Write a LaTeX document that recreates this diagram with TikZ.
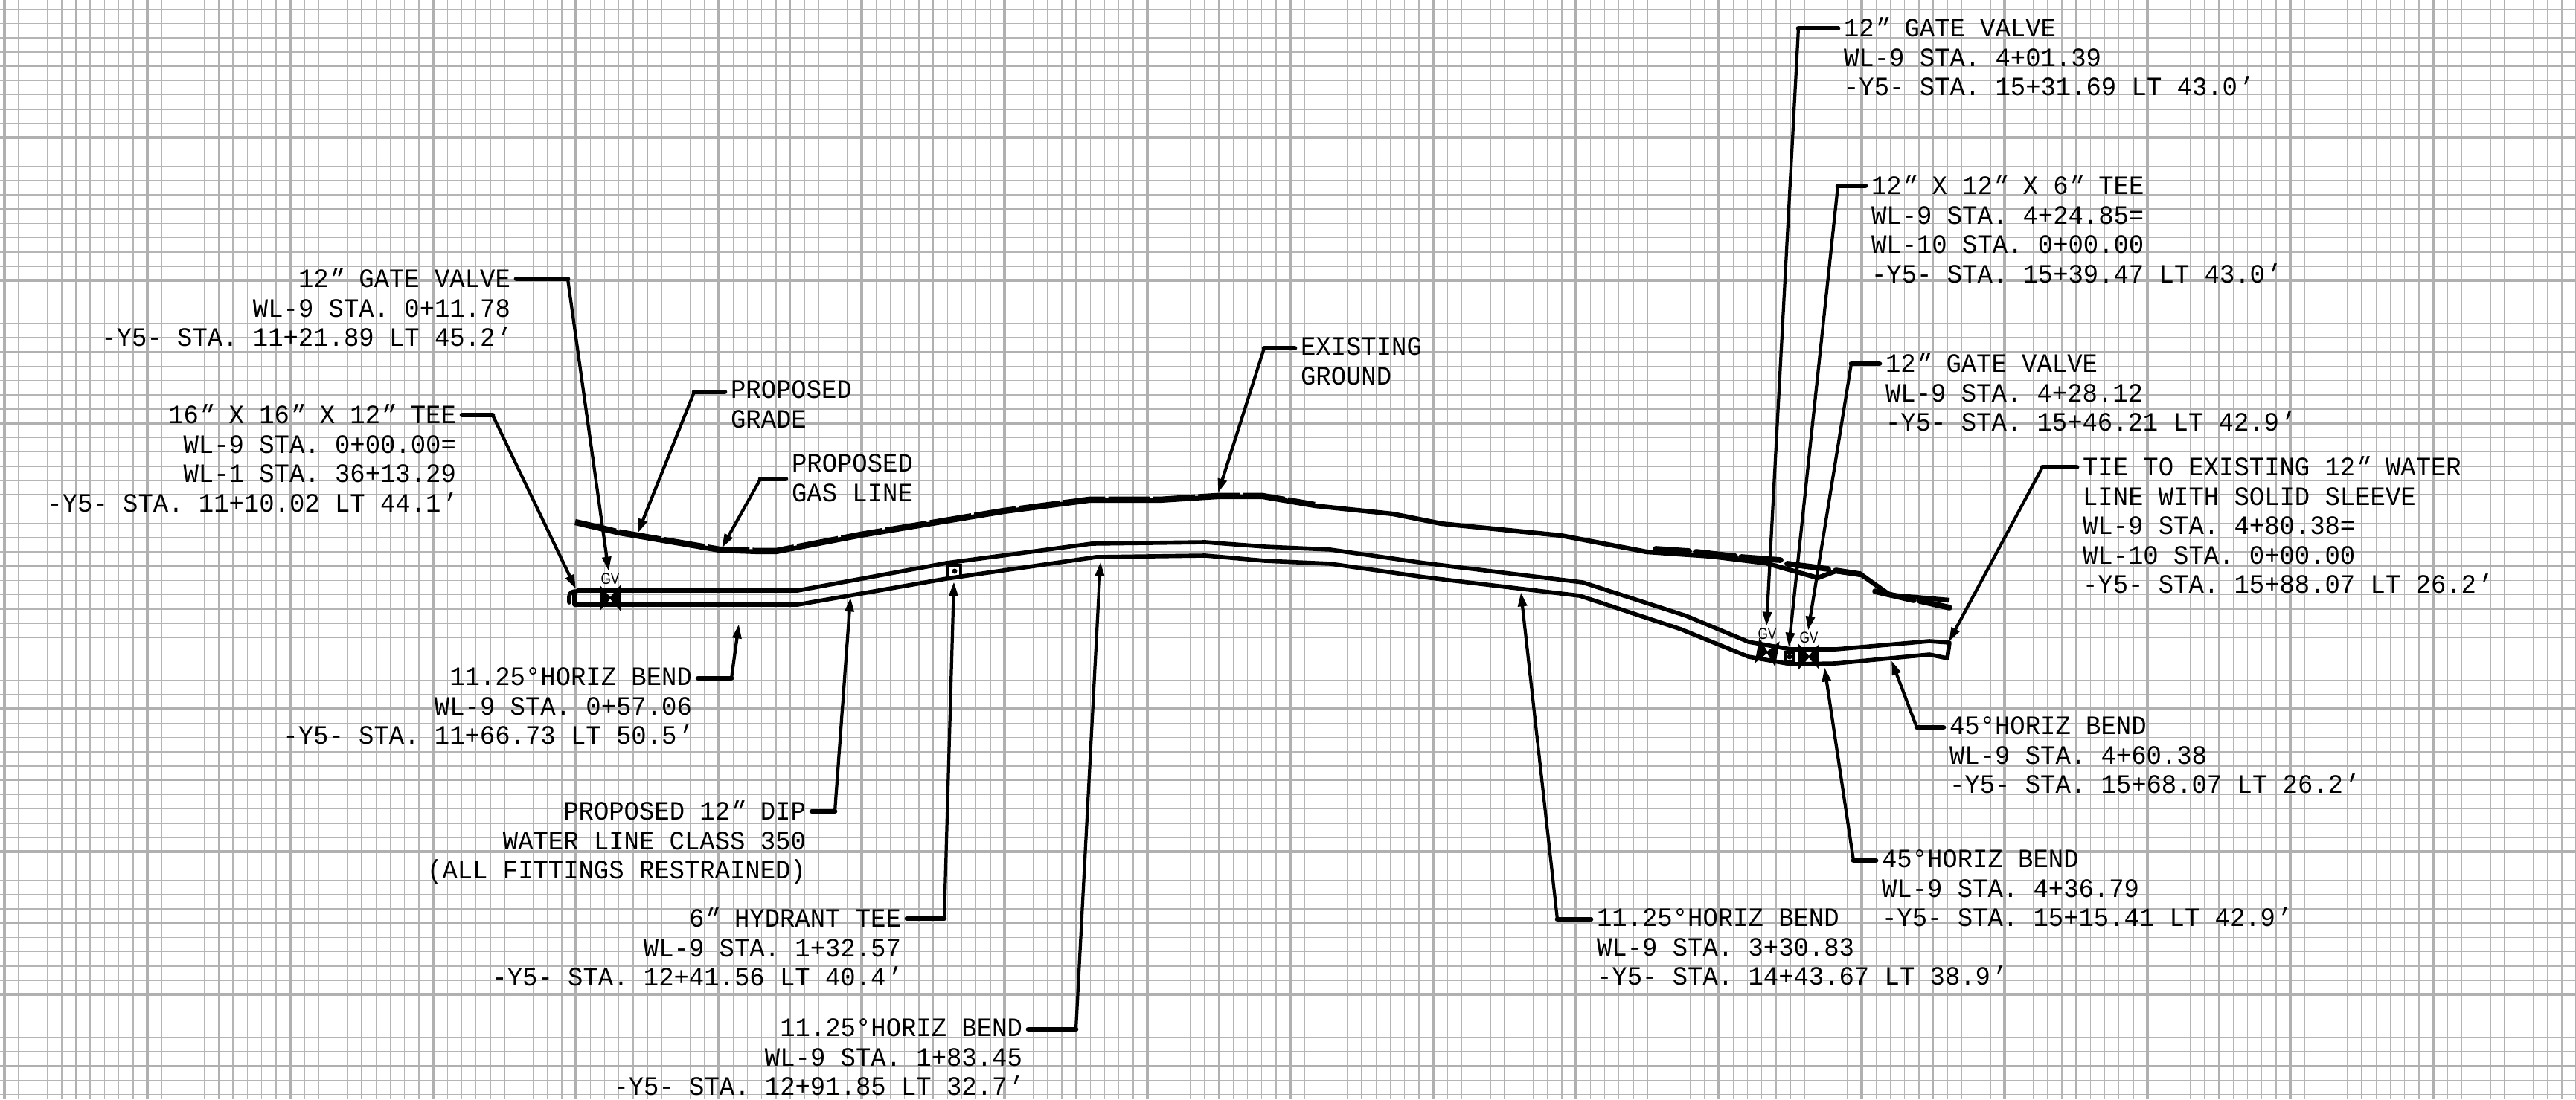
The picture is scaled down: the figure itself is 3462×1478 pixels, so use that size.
\documentclass[tikz,border=0pt]{standalone}
\usepackage{fontspec}
\usetikzlibrary{arrows.meta}
\newfontfamily\cadfont[FakeStretch=0.95]{Liberation Mono}
\newfontfamily\primefont[FakeStretch=0.95,FakeSlant=0.35]{Liberation Mono}
\newfontfamily\tagfont[FakeStretch=0.82]{Liberation Sans}
\newcommand{\inch}{\kern-.14em{\primefont ″}\kern.14em}
\newcommand{\foot}{\kern-.14em{\primefont ′}\kern.14em}
\begin{document}
\begin{tikzpicture}[x=0.01cm, y=-0.01cm,
    gridminor/.style={draw=black!29, line width=0.4pt},
    gridmid/.style={draw=black!31, line width=0.6pt},
    gridmajor/.style={draw=black!31, line width=1.05pt},
    notestyle/.style={font=\cadfont\fontsize{10.15pt}{11.25pt}\selectfont, inner sep=0pt,
        outer xsep=2.3pt, outer ysep=0pt, yshift=-0.5pt, execute at begin node=\strut},
    noteleft/.style={notestyle, align=right, anchor=north east},
    noteright/.style={notestyle, align=left, anchor=north west},
    tagstyle/.style={font=\tagfont\fontsize{6pt}{6.5pt}\selectfont, inner sep=0pt},
    stubline/.style={line width=1.9pt, line cap=round},
    leaderline/.style={line width=1.2pt, -{Triangle[length=5.5pt, width=3.3pt]}},
    pipeline/.style={line width=1.6pt, line join=round},
    gradeline/.style={line width=1.8pt, line join=round},
    groundline/.style={line width=2.2pt, line join=round},
    valvestyle/.style={draw=black, fill=black, line width=0.5pt, line join=miter}]
    \useasboundingbox (0,0) rectangle (3462,1478);

    % paper grid
    \foreach \i in {0,...,180}
    \draw[gridminor] (6+19.2*\i,0) -- (6+19.2*\i,1478);
    \foreach \i in {0,...,76}
    \draw[gridminor] (0,12.4+19.2*\i) -- (3462,12.4+19.2*\i);
    \foreach \i in {0,5,...,180}
    \draw[gridmid] (6+19.2*\i,0) -- (6+19.2*\i,1478);
    \foreach \i in {4,9,...,74}
    \draw[gridmid] (0,12.4+19.2*\i) -- (3462,12.4+19.2*\i);
    \foreach \i in {0,10,...,180}
    \draw[gridmajor] (6+19.2*\i,0) -- (6+19.2*\i,1478);
    \foreach \i in {9,19,...,69}
    \draw[gridmajor] (0,12.4+19.2*\i) -- (3462,12.4+19.2*\i);

    % ground lines
    \draw[gradeline] (773,703) -- (833,717) -- (967,740) -- (1020,742) -- (1043,742) -- (1157,720)
        -- (1349,688) -- (1464,673) -- (1559,673) -- (1636,668) -- (1697,668) -- (1767,680)
        -- (1872,691) -- (1937,704) -- (2098,720) -- (2213,742) -- (2300,748) -- (2373,757)
        -- (2443,777) -- (2467,768) -- (2502,773) -- (2540,800) -- (2620,807);
    \draw[groundline, dash pattern=on 16pt off 1.2pt, yshift=0.4pt] (773,703) -- (833,717) -- (967,740)
        -- (1020,742) -- (1043,742) -- (1157,720) -- (1349,688) -- (1464,673) -- (1559,673)
        -- (1636,668) -- (1697,668) -- (1767,680);
    \draw[groundline, line cap=round] (2225,738) -- (2270,741) (2279,742) -- (2332,748)
        (2340,749) -- (2393,753) (2402,758) -- (2457,765) (2467,767) -- (2500,772)
        (2520,795) -- (2572,807) (2580,808) -- (2620,817);

    % water line
    \draw[pipeline] (775,794) -- (1072,794) -- (1272,757) -- (1467,731) -- (1620,729) -- (1700,735)
        -- (1788,739) -- (1914,757) -- (2127,783) -- (2266,828) -- (2350,863) -- (2407,873)
        -- (2467,873) -- (2593,862) -- (2620,864) -- (2617,885) -- (2593,880) -- (2467,892)
        -- (2407,893) -- (2350,883) -- (2259,846) -- (2123,801) -- (1914,776) -- (1788,758)
        -- (1700,754) -- (1620,747) -- (1473,749) -- (1272,778) -- (1072,813) -- (772,813) -- (772,794);
    \draw[pipeline, line cap=round] (765,810) -- (765,802) .. controls (765,796) and (770,795) .. (775,795);

    % valves and tees
    \foreach \x/\y/\r in {820/804/0, 2375/877/-10, 2431/883/0}
    \draw[valvestyle, shift={(\x,\y)}, rotate=\r] (-13,-15) -- (13,15) -- (13,-15) -- (-13,15) -- cycle;
    \draw[line width=1pt] (1274,760) rectangle (1291,776);
    \fill (1283,768) circle (3.5);
    \draw[line width=1pt] (2400,877) rectangle (2411,889);
    \fill (2405,883) circle (3.5);
    \node[tagstyle] (gvtagone) at (820,778) {GV};
    \node[tagstyle] (gvtagtwo) at (2375,852) {GV};
    \node[tagstyle] (gvtagthree) at (2431,857) {GV};

    % notes
    \node[noteleft] (gvone) at (694,359) {12\inch{} GATE VALVE\\WL-9 STA. 0+11.78\\-Y5- STA. 11+21.89 LT 45.2\foot};
    \node[noteleft] (teeone) at (621,542) {16\inch{} X 16\inch{} X 12\inch{} TEE\\WL-9 STA. 0+00.00=\\WL-1 STA. 36+13.29\\-Y5- STA. 11+10.02 LT 44.1\foot};
    \node[noteright] (gradenote) at (974,510) {PROPOSED\\GRADE};
    \node[noteright] (gasnote) at (1056,609) {PROPOSED\\GAS LINE};
    \node[noteright] (groundnote) at (1740,452) {EXISTING\\GROUND};
    \node[noteleft] (bendone) at (938,896) {11.25°HORIZ BEND\\WL-9 STA. 0+57.06\\-Y5- STA. 11+66.73 LT 50.5\foot};
    \node[noteleft] (dipnote) at (1091,1075) {PROPOSED 12\inch{} DIP\\WATER LINE CLASS 350\\(ALL FITTINGS RESTRAINED)};
    \node[noteleft] (hydrantnote) at (1219,1219) {6\inch{} HYDRANT TEE\\WL-9 STA. 1+32.57\\-Y5- STA. 12+41.56 LT 40.4\foot};
    \node[noteleft] (bendtwo) at (1382,1368) {11.25°HORIZ BEND\\WL-9 STA. 1+83.45\\-Y5- STA. 12+91.85 LT 32.7\foot};
    \node[noteright] (bendthree) at (2138,1220) {11.25°HORIZ BEND\\WL-9 STA. 3+30.83\\-Y5- STA. 14+43.67 LT 38.9\foot};
    \node[noteright] (bendfour) at (2521,1141) {45°HORIZ BEND\\WL-9 STA. 4+36.79\\-Y5- STA. 15+15.41 LT 42.9\foot};
    \node[noteright] (bendfive) at (2612,962) {45°HORIZ BEND\\WL-9 STA. 4+60.38\\-Y5- STA. 15+68.07 LT 26.2\foot};
    \node[noteright] (tienote) at (2791,612) {TIE TO EXISTING 12\inch{} WATER\\LINE WITH SOLID SLEEVE\\WL-9 STA. 4+80.38=\\WL-10 STA. 0+00.00\\-Y5- STA. 15+88.07 LT 26.2\foot};
    \node[noteright] (gvtwo) at (2470,22) {12\inch{} GATE VALVE\\WL-9 STA. 4+01.39\\-Y5- STA. 15+31.69 LT 43.0\foot};
    \node[noteright] (teetwo) at (2507,234) {12\inch{} X 12\inch{} X 6\inch{} TEE\\WL-9 STA. 4+24.85=\\WL-10 STA. 0+00.00\\-Y5- STA. 15+39.47 LT 43.0\foot};
    \node[noteright] (gvthree) at (2526,473) {12\inch{} GATE VALVE\\WL-9 STA. 4+28.12\\-Y5- STA. 15+46.21 LT 42.9\foot};

    % leaders: note / side / elbow / tip
    \foreach \lb/\sd/\ex/\ey/\tx/\ty in {
        gvone/east/763/375/818/768, teeone/east/662/558/774/792,
        gradenote/west/933/527/857/717, gasnote/west/1022/644/970/737,
        groundnote/west/1699/468/1637/663, bendone/east/983/912/993/839,
        dipnote/east/1122/1091/1143/803, hydrantnote/east/1269/1235/1282/782,
        bendtwo/east/1446/1384/1479/755, bendthree/west/2093/1236/2044/796,
        bendfour/west/2491/1157/2452/897, bendfive/west/2576/978/2542/888,
        tienote/west/2745/628/2619/863, gvtwo/west/2417/38/2374/842,
        teetwo/west/2470/250/2404/870, gvthree/west/2488/489/2430/848}{
        \coordinate (\lb-e) at (\ex,\ey);
        \coordinate (\lb-t) at (\tx,\ty);
        \draw[stubline] (\lb.\sd |- \lb-e) -- (\lb-e);
        \draw[leaderline] (\lb-e) -- (\lb-t);
    }
\end{tikzpicture}
\end{document}
